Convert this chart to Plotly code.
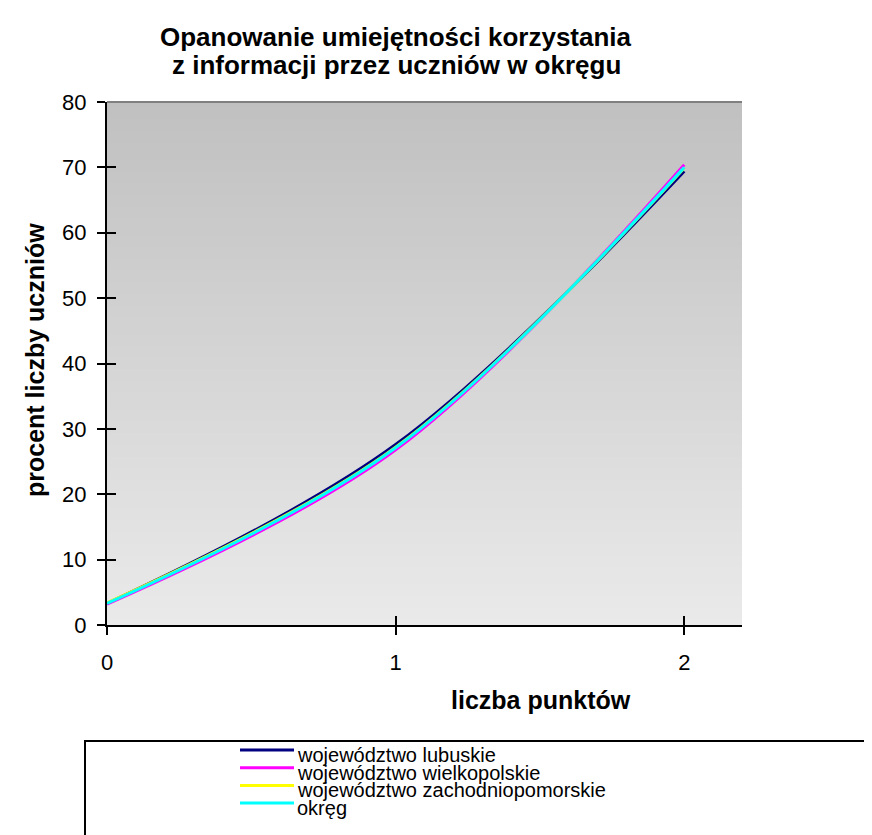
import plotly.graph_objects as go

# ---- data ----
x_points = [0, 1, 2]
x_tick_labels = ["0", "1", "2"]
series_names = ["województwo lubuskie", "województwo wielkopolskie",
                "województwo zachodniopomorskie", "okręg"]
lubuskie = [3.3, 27.6, 69.4]
wielkopolskie = [3.2, 26.8, 70.4]
zachodniopomorskie = [3.4, 27.2, 69.9]
okreg = [3.3, 27.1, 70.0]
series_values = [lubuskie, wielkopolskie, zachodniopomorskie, okreg]
series_colors = ["#000080", "#FF00FF", "#FFFF00", "#00FFFF"]

title_lines = ["Opanowanie umiejętności korzystania", "z informacji przez uczniów w okręgu"]
x_title = "liczba punktów"
y_title = "procent liczby uczniów"

# ---- geometry (pixels) ----
W, H = 872, 835
L, R, T, B = 99, 734, 94, 617
FONT = "Arial, Liberation Sans, sans-serif"


def px_x(p):
    return (p - L) / (R - L)


def px_y(p):
    return (B - p) / (B - T)


fig = go.Figure()
for name, vals, col in zip(series_names, series_values, series_colors):
    fig.add_trace(go.Scatter(x=x_points, y=vals, name=name, mode="lines",
                             line=dict(color=col, width=3, shape="spline", smoothing=1),
                             showlegend=False))
# helper trace for inner half of crossing ticks
fig.add_trace(go.Scatter(x=[], y=[], xaxis="x2", yaxis="y2", showlegend=False, hoverinfo="skip"))

shapes = []
# vertical gradient background
N = 90
top_c, bot_c = 192, 234
for i in range(N):
    f0, f1 = i / N, (i + 1) / N
    c = round(bot_c + (top_c - bot_c) * (f0 + f1) / 2)
    shapes.append(dict(type="rect", xref="x domain", yref="y domain", x0=0, x1=1,
                       y0=f0, y1=f1 + 0.002, line=dict(width=0),
                       fillcolor=f"rgb({c},{c},{c})", layer="below"))
shapes.append(dict(type="line", xref="x domain", yref="y domain", x0=0, x1=1, y0=1, y1=1,
                   line=dict(color="#808080", width=2), layer="below"))

# legend box
shapes.append(dict(type="rect", xref="paper", yref="paper", x0=px_x(77), x1=px_x(900),
                   y0=px_y(733), y1=px_y(850), line=dict(color="black", width=2),
                   fillcolor="white"))
annotations = []
for i, (name, col) in enumerate(zip(series_names, series_colors)):
    yl = 742 + 17.7 * i
    shapes.append(dict(type="line", xref="paper", yref="paper", x0=px_x(232), x1=px_x(286),
                       y0=px_y(yl), y1=px_y(yl), line=dict(color=col, width=3)))
    annotations.append(dict(text=name, xref="paper", yref="paper", x=px_x(287), y=px_y(yl + 5),
                            xanchor="left", yanchor="middle", showarrow=False,
                            font=dict(family=FONT, size=20, color="black")))

for i, line in enumerate(title_lines):
    annotations.append(dict(text=line, xref="paper", yref="paper", x=px_x(388),
                            y=px_y(29 + 28 * i), xanchor="center", yanchor="middle",
                            showarrow=False,
                            font=dict(family=FONT, size=26, color="black", weight="bold")))
annotations.append(dict(text=x_title, xref="paper", yref="paper", x=px_x(533), y=px_y(692),
                        xanchor="center", yanchor="middle", showarrow=False,
                        font=dict(family=FONT, size=25, color="black", weight="bold")))
annotations.append(dict(text=y_title, xref="paper", yref="paper", x=px_x(27), y=px_y(352),
                        xanchor="center", yanchor="middle", showarrow=False, textangle=-90,
                        font=dict(family=FONT, size=25, color="black", weight="bold")))

axis_common = dict(showgrid=False, zeroline=False, tickcolor="black", tickwidth=2,
                   tickfont=dict(family=FONT, size=22, color="black"))

fig.update_layout(
    width=W, height=H,
    margin=dict(l=L, r=W - R, t=T, b=H - B, pad=0),
    paper_bgcolor="white", plot_bgcolor="rgba(0,0,0,0)",
    showlegend=False,
    xaxis=dict(range=[0, 2.2], tickvals=x_points, ticktext=x_tick_labels,
               ticks="outside", ticklen=8, showline=True, linecolor="black", linewidth=2,
               ticklabelstandoff=9, **axis_common),
    yaxis=dict(range=[0, 80], dtick=10, ticks="outside", ticklen=8, showline=True,
               linecolor="black", linewidth=2, ticklabelstandoff=6, **axis_common),
    xaxis2=dict(overlaying="x", anchor="y2", range=[0, 2.2], tickvals=x_points,
                ticks="inside", ticklen=9, showticklabels=False, showline=False,
                showgrid=False, zeroline=False, tickcolor="black", tickwidth=2),
    yaxis2=dict(overlaying="y", anchor="x2", range=[0, 80], dtick=10,
                ticks="inside", ticklen=9, showticklabels=False, showline=False,
                showgrid=False, zeroline=False, tickcolor="black", tickwidth=2),
    shapes=shapes, annotations=annotations,
)

fig.write_html("out.html")
